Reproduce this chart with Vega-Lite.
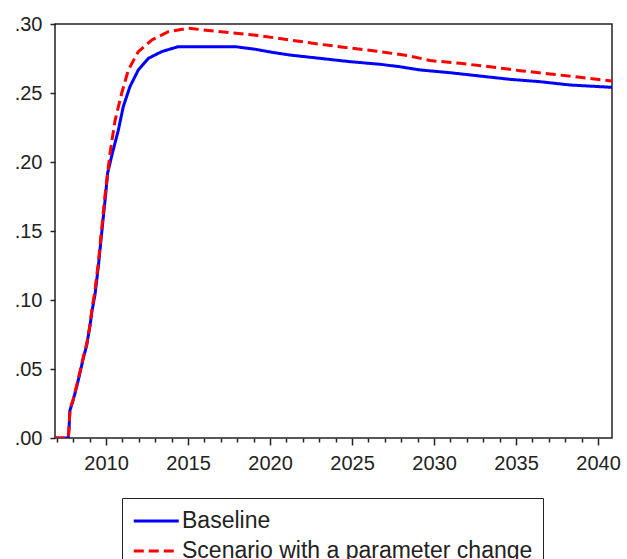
{
  "$schema": "https://vega.github.io/schema/vega-lite/v6.json",
  "width": 557,
  "height": 414,
  "autosize": {"type": "none"},
  "padding": {"left": 55, "top": 24, "right": 15, "bottom": 121},
  "background": "white",
  "config": {
    "view": {"stroke": "#222", "strokeWidth": 1.5},
    "axis": {"labelFont": "Liberation Sans", "labelFontSize": 20, "labelColor": "#222", "tickColor": "#222", "tickWidth": 1.5, "domain": false, "grid": false, "title": null}
  },
  "data": {
    "values": [
      {"year": 2006.89, "value": 0, "series": "Baseline"},
      {"year": 2007.70, "value": 0, "series": "Baseline"},
      {"year": 2007.75, "value": 0.008, "series": "Baseline"},
      {"year": 2007.80, "value": 0.020, "series": "Baseline"},
      {"year": 2008.00, "value": 0.0275, "series": "Baseline"},
      {"year": 2008.21, "value": 0.037, "series": "Baseline"},
      {"year": 2008.41, "value": 0.047, "series": "Baseline"},
      {"year": 2008.62, "value": 0.058, "series": "Baseline"},
      {"year": 2008.82, "value": 0.067, "series": "Baseline"},
      {"year": 2009.02, "value": 0.081, "series": "Baseline"},
      {"year": 2009.16, "value": 0.093, "series": "Baseline"},
      {"year": 2009.33, "value": 0.104, "series": "Baseline"},
      {"year": 2009.53, "value": 0.124, "series": "Baseline"},
      {"year": 2009.74, "value": 0.149, "series": "Baseline"},
      {"year": 2009.94, "value": 0.172, "series": "Baseline"},
      {"year": 2010.10, "value": 0.192, "series": "Baseline"},
      {"year": 2010.38, "value": 0.206, "series": "Baseline"},
      {"year": 2010.75, "value": 0.223, "series": "Baseline"},
      {"year": 2011.05, "value": 0.240, "series": "Baseline"},
      {"year": 2011.46, "value": 0.2546, "series": "Baseline"},
      {"year": 2011.97, "value": 0.2667, "series": "Baseline"},
      {"year": 2012.58, "value": 0.2751, "series": "Baseline"},
      {"year": 2013.40, "value": 0.280, "series": "Baseline"},
      {"year": 2014.41, "value": 0.2836, "series": "Baseline"},
      {"year": 2017.87, "value": 0.2836, "series": "Baseline"},
      {"year": 2019.09, "value": 0.2817, "series": "Baseline"},
      {"year": 2020.12, "value": 0.2795, "series": "Baseline"},
      {"year": 2021.22, "value": 0.2775, "series": "Baseline"},
      {"year": 2023.05, "value": 0.2751, "series": "Baseline"},
      {"year": 2024.88, "value": 0.2727, "series": "Baseline"},
      {"year": 2026.71, "value": 0.2708, "series": "Baseline"},
      {"year": 2027.93, "value": 0.2690, "series": "Baseline"},
      {"year": 2029.15, "value": 0.2667, "series": "Baseline"},
      {"year": 2030.98, "value": 0.2647, "series": "Baseline"},
      {"year": 2032.80, "value": 0.2623, "series": "Baseline"},
      {"year": 2034.63, "value": 0.2599, "series": "Baseline"},
      {"year": 2036.46, "value": 0.2582, "series": "Baseline"},
      {"year": 2038.29, "value": 0.2558, "series": "Baseline"},
      {"year": 2040.85, "value": 0.2541, "series": "Baseline"},
      {"year": 2006.89, "value": 0, "series": "Scenario with a parameter change"},
      {"year": 2007.70, "value": 0, "series": "Scenario with a parameter change"},
      {"year": 2007.75, "value": 0.008, "series": "Scenario with a parameter change"},
      {"year": 2007.80, "value": 0.021, "series": "Scenario with a parameter change"},
      {"year": 2008.00, "value": 0.028, "series": "Scenario with a parameter change"},
      {"year": 2008.21, "value": 0.038, "series": "Scenario with a parameter change"},
      {"year": 2008.41, "value": 0.048, "series": "Scenario with a parameter change"},
      {"year": 2008.62, "value": 0.059, "series": "Scenario with a parameter change"},
      {"year": 2008.82, "value": 0.068, "series": "Scenario with a parameter change"},
      {"year": 2009.02, "value": 0.082, "series": "Scenario with a parameter change"},
      {"year": 2009.16, "value": 0.095, "series": "Scenario with a parameter change"},
      {"year": 2009.33, "value": 0.107, "series": "Scenario with a parameter change"},
      {"year": 2009.53, "value": 0.127, "series": "Scenario with a parameter change"},
      {"year": 2009.74, "value": 0.152, "series": "Scenario with a parameter change"},
      {"year": 2009.94, "value": 0.176, "series": "Scenario with a parameter change"},
      {"year": 2010.24, "value": 0.206, "series": "Scenario with a parameter change"},
      {"year": 2010.55, "value": 0.230, "series": "Scenario with a parameter change"},
      {"year": 2010.96, "value": 0.250, "series": "Scenario with a parameter change"},
      {"year": 2011.36, "value": 0.2667, "series": "Scenario with a parameter change"},
      {"year": 2011.97, "value": 0.280, "series": "Scenario with a parameter change"},
      {"year": 2012.79, "value": 0.2884, "series": "Scenario with a parameter change"},
      {"year": 2013.80, "value": 0.2944, "series": "Scenario with a parameter change"},
      {"year": 2015.02, "value": 0.2969, "series": "Scenario with a parameter change"},
      {"year": 2017.56, "value": 0.2937, "series": "Scenario with a parameter change"},
      {"year": 2019.39, "value": 0.2915, "series": "Scenario with a parameter change"},
      {"year": 2021.22, "value": 0.2884, "series": "Scenario with a parameter change"},
      {"year": 2023.05, "value": 0.2853, "series": "Scenario with a parameter change"},
      {"year": 2024.88, "value": 0.2826, "series": "Scenario with a parameter change"},
      {"year": 2026.71, "value": 0.2800, "series": "Scenario with a parameter change"},
      {"year": 2028.54, "value": 0.2768, "series": "Scenario with a parameter change"},
      {"year": 2029.76, "value": 0.2735, "series": "Scenario with a parameter change"},
      {"year": 2031.59, "value": 0.2715, "series": "Scenario with a parameter change"},
      {"year": 2033.41, "value": 0.2690, "series": "Scenario with a parameter change"},
      {"year": 2035.24, "value": 0.2662, "series": "Scenario with a parameter change"},
      {"year": 2037.07, "value": 0.2638, "series": "Scenario with a parameter change"},
      {"year": 2038.90, "value": 0.2614, "series": "Scenario with a parameter change"},
      {"year": 2040.85, "value": 0.2587, "series": "Scenario with a parameter change"}
    ]
  },
  "mark": {"type": "line", "strokeWidth": 3, "clip": true},
  "encoding": {
    "x": {
      "field": "year", "type": "quantitative",
      "scale": {"domain": [2006.89, 2040.85], "nice": false, "zero": false},
      "axis": {
        "values": [2007, 2008, 2009, 2010, 2011, 2012, 2013, 2014, 2015, 2016, 2017, 2018, 2019, 2020, 2021, 2022, 2023, 2024, 2025, 2026, 2027, 2028, 2029, 2030, 2031, 2032, 2033, 2034, 2035, 2036, 2037, 2038, 2039, 2040],
        "format": "d",
        "labelExpr": "datum.value % 5 === 0 ? datum.label : ''",
        "tickSize": {"condition": {"test": "datum.value % 5 === 0", "value": 7}, "value": 4},
        "labelPadding": 8,
        "labelFlush": false,
        "labelOverlap": false
      }
    },
    "y": {
      "field": "value", "type": "quantitative",
      "scale": {"domain": [0, 0.30], "nice": false},
      "axis": {
        "values": [0, 0.05, 0.10, 0.15, 0.20, 0.25, 0.30],
        "labelExpr": "slice(format(datum.value, '.2f'), 1)",
        "tickSize": 5,
        "labelPadding": 8,
        "labelFlush": false,
        "labelOverlap": false
      }
    },
    "color": {
      "field": "series", "type": "nominal",
      "scale": {"domain": ["Baseline", "Scenario with a parameter change"], "range": ["#0000FF", "#FF0000"]},
      "legend": {
        "title": null, "orient": "none", "legendX": 67, "legendY": 474,
        "strokeColor": "#222", "padding": 10, "fillColor": "white",
        "labelFont": "Liberation Sans", "labelFontSize": 23, "labelColor": "#222",
        "symbolType": "M -1 0 L 3 0", "symbolSize": 506, "symbolStrokeWidth": 3, "symbolFillColor": "transparent",
        "labelOffset": 24, "rowPadding": 5, "labelLimit": 500
      }
    },
    "strokeDash": {
      "field": "series", "type": "nominal",
      "scale": {"domain": ["Baseline", "Scenario with a parameter change"], "range": [[1, 0], [10, 5]]},
      "legend": {
        "title": null, "orient": "none", "legendX": 67, "legendY": 474,
        "strokeColor": "#222", "padding": 10, "fillColor": "white",
        "labelFont": "Liberation Sans", "labelFontSize": 23, "labelColor": "#222",
        "symbolType": "M -1 0 L 3 0", "symbolSize": 506, "symbolStrokeWidth": 3, "symbolFillColor": "transparent",
        "labelOffset": 24, "rowPadding": 5, "labelLimit": 500
      }
    }
  }
}
